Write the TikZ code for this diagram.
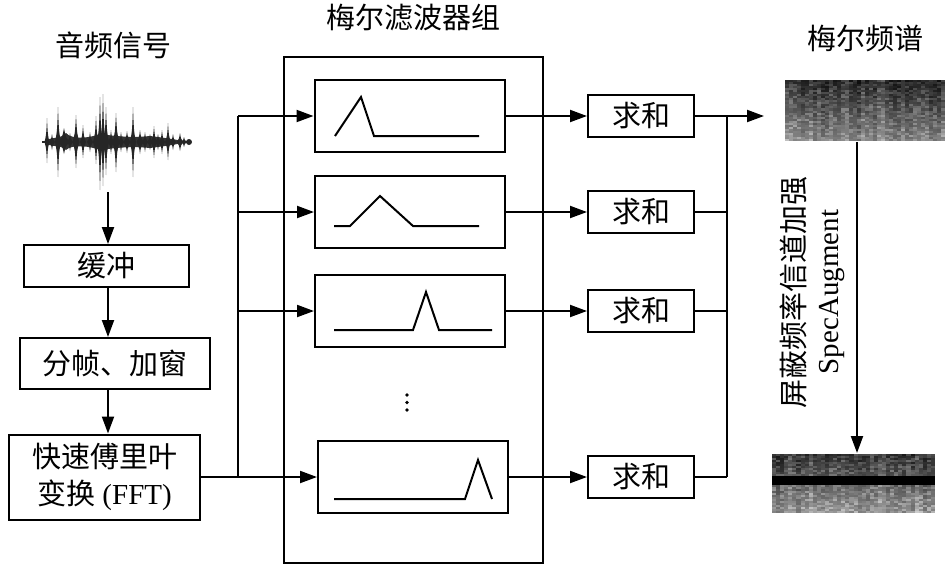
\documentclass[tikz,border=0pt]{standalone}
\usepackage{fontspec}
\setmainfont{Liberation Serif}
\newfontfamily\cjk{Noto Sans CJK SC}
\usetikzlibrary{arrows.meta}
\begin{document}
\begin{tikzpicture}[x=1pt,y=-1pt,line width=2pt,
  every node/.style={font=\fontsize{29}{37}\selectfont},
  blk/.style={draw, line width=2pt, inner sep=0pt, align=center},
  filtbox/.style={blk, minimum width=190pt, minimum height=72pt},
  sumbox/.style={blk, minimum width=106pt, minimum height=42pt},
  arr/.style={-{Triangle[length=17pt,width=12pt]}},
  tline/.style={line width=2pt, line join=miter},
]
\useasboundingbox (0,0) rectangle (945,566);

% titles
\node (t1) at (113,45) {\cjk 音频信号};
\node (t2) at (413,18) {\cjk 梅尔滤波器组};
\node (t3) at (865,38) {\cjk 梅尔频谱};

% waveform
\draw[line width=1.5pt, black!85] (42,142) -- (189,142);
\fill[black!85] (189,142) circle (3);
\fill[black!80] (44,142) .. controls (50,136) and (60,140) .. (66,133) .. controls (72,140) and (90,138) .. (100,134)
  .. controls (115,136) and (130,138) .. (150,136) .. controls (165,138) and (175,139) .. (186,142)
  .. controls (175,145) and (165,146) .. (150,148) .. controls (130,146) and (115,148) .. (100,150)
  .. controls (90,146) and (72,144) .. (66,150) .. controls (60,144) and (50,148) .. cycle;
\foreach \x/\a/\d/\w in {47/24/21/2.5, 52/8/8/3, 58/35/35/3, 64/14/12/6, 70/9/9/3, 76/27/26/3.5, 83/17/16/3, 90/10/10/3,
  96/26/22/3, 100/45/48/3, 103/48/44/3, 106/35/33/3, 111/12/12/3, 116/29/30/3.5, 121/10/10/3, 127/11/11/3.5, 133/35/35/3,
  140/12/12/3.5, 145/10/10/3, 150/8/8/3, 154/16/16/3, 158/8/8/3, 162/12/12/3, 168/19/18/3, 173/8/8/3, 180/9/9/3.5, 184/5/5/3}{
  \fill[black!85] ({\x-\w},142) .. controls ({\x-\w*0.3},{142-\a*0.3}) .. (\x,{142-\a})
     .. controls ({\x+\w*0.3},{142-\a*0.3}) .. ({\x+\w},142)
     .. controls ({\x+\w*0.3},{142+\d*0.3}) .. (\x,{142+\d})
     .. controls ({\x-\w*0.3},{142+\d*0.3}) .. cycle;
}
\coordinate (wv) at (108,192);

% left chain
\node[blk, minimum width=165pt, minimum height=42pt] (buf) at (106.5,266) {\cjk 缓冲};
\node[blk, minimum width=190pt, minimum height=51pt] (frm) at (115,363.5) {\cjk 分帧、加窗};
\node[blk, minimum width=191pt, minimum height=85pt] (fft) at (104.5,477) {{\cjk 快速傅里叶}\\{\cjk 变换} (FFT)};

\draw[arr] (wv) -- (wv |- buf.north);
\draw[arr] (buf.south -| wv) -- (frm.north -| wv);
\draw[arr] (frm.south -| wv) -- (fft.north -| wv);

% filter bank
\node[blk, minimum width=259pt, minimum height=506pt] (bank) at (413.5,310) {};
\node[filtbox] (f1) at (409.5,116) {};
\node[filtbox] (f2) at (410,212) {};
\node[filtbox] (f3) at (410,311) {};
\node[filtbox] (f4) at (413,477) {};

\draw[tline] (335,136) -- (361,97) -- (374,136) -- (479,136);
\draw[tline] (334,226) -- (350,226) -- (380,196) -- (413,226) -- (479,226);
\draw[tline] (334,330) -- (413,330) -- (426,292) -- (439,330) -- (492,330);
\draw[tline] (334,499) -- (465,499) -- (478,460) -- (492,499);
\foreach \yy in {395,402.5,410} \fill (407,\yy) circle (1.9);

\coordinate (busT) at (238,116);
\coordinate (busB) at (238,477);
\draw (fft.east) -- (busB);
\draw (busT) -- (busB);
\foreach \f in {f1,f2,f3,f4} \draw[arr] (\f.west -| busT) -- (\f.west);

% sums
\node[sumbox] (s1) at (641,116) {\cjk 求和};
\node[sumbox] (s2) at (641,212) {\cjk 求和};
\node[sumbox] (s3) at (641,311) {\cjk 求和};
\node[sumbox] (s4) at (641,477) {\cjk 求和};
\foreach \k in {1,2,3,4} \draw[arr] (f\k.east) -- (s\k.west);

\coordinate (obT) at (727,116);
\coordinate (obB) at (727,477);
\coordinate (otip) at (764,116);
\draw[arr] (s1.east) -- (otip);
\draw (s2.east) -- (obT |- s2.east);
\draw (s3.east) -- (obT |- s3.east);
\draw (s4.east) -- (obB);
\draw (obT) -- (obB);

% spectrograms
\node[inner sep=0pt, minimum width=160pt, minimum height=61pt] (sp1) at (865,110.5) {};
\node[inner sep=0pt, minimum width=163pt, minimum height=59pt] (sp2) at (853.5,483.5) {};
\pgfmathsetseed{7}
\foreach \i in {0,...,39}{
  \pgfmathsetmacro\colf{rnd}
  \foreach \j in {0,...,29}{
    \pgfmathsetmacro\bv{min(92, 2 + 38*\j/29 + 16*\colf + 22*rnd^2)}
    \fill[white!\bv!black] ({785+4*\i},{80+2.033*\j}) rectangle ++(4.3,2.3);
  }
}
\foreach \i in {0,...,39}{
  \pgfmathsetmacro\colf{rnd}
  \foreach \j in {0,...,29}{
    \pgfmathsetmacro\bv{min(92, 6 + 38*\j/29 + 16*\colf + 24*rnd^2)}
    \fill[white!\bv!black] ({772+4.075*\i},{454+1.967*\j}) rectangle ++(4.4,2.25);
  }
}
\fill[black] (772,476) rectangle (935,485);

\coordinate (sa) at (857,300);
\draw[arr] (sa |- sp1.south) -- (sa |- sp2.north);

\node[rotate=90] (lab1) at (793,292) {\cjk 屏蔽频率信道加强};
\node[rotate=90] (lab2) at (832,292) {SpecAugment};
\end{tikzpicture}
\end{document}
